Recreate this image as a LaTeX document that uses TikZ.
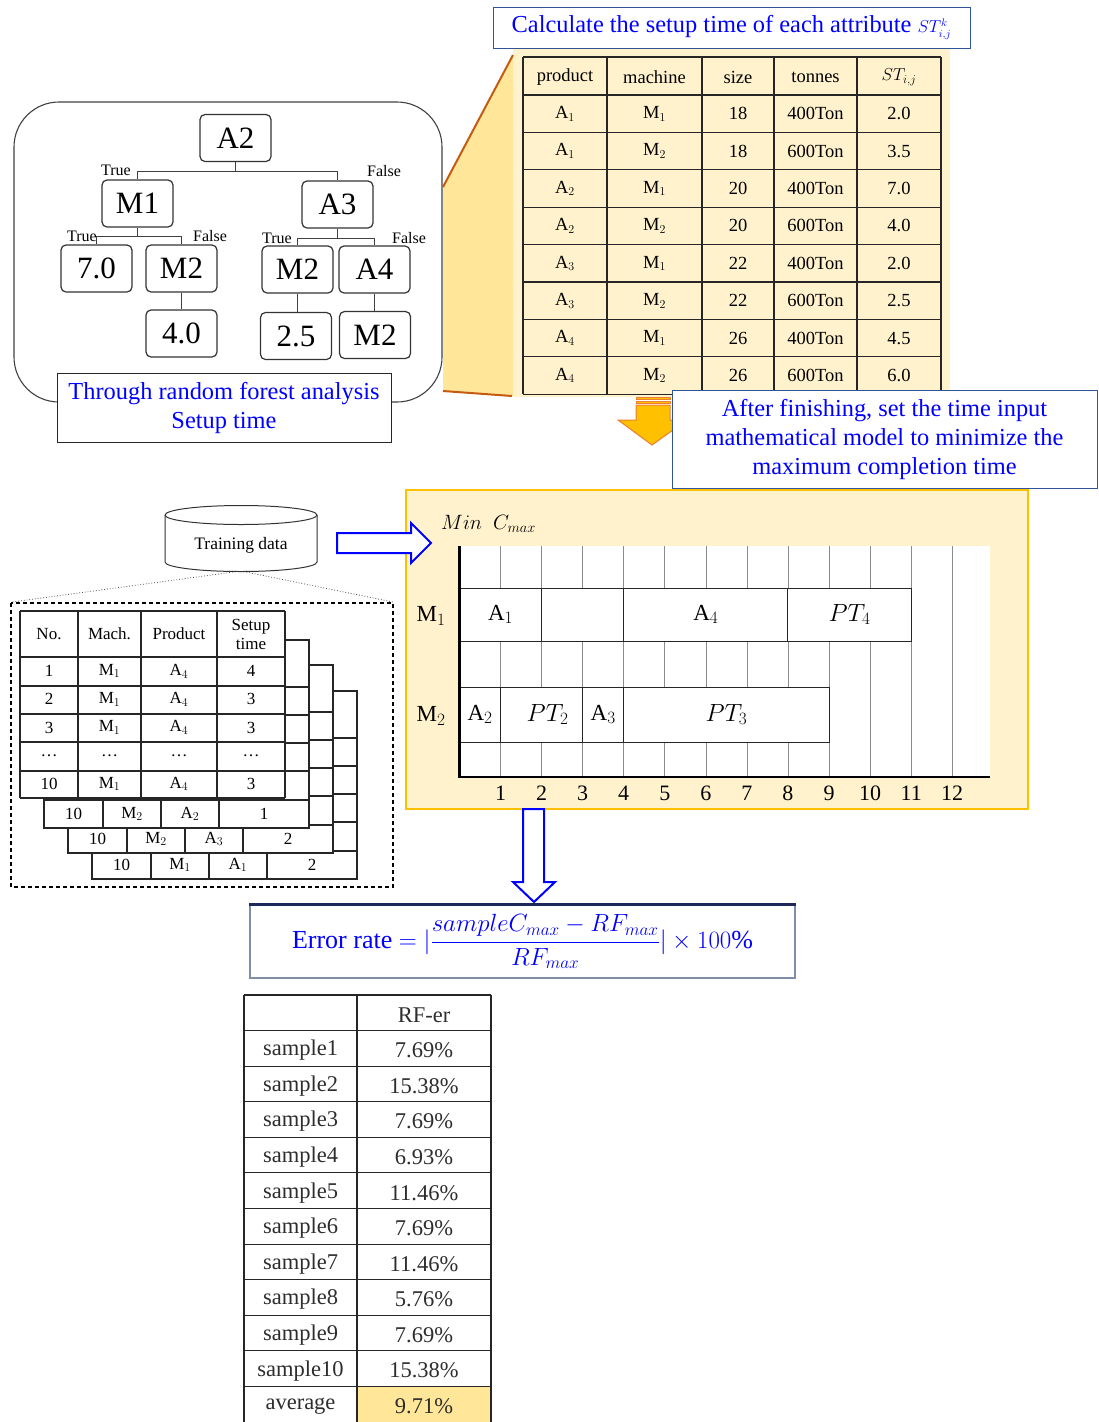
\documentclass[tikz,border=0pt]{standalone}
\usepackage{fontspec}
\setmainfont{Liberation Serif}
\usetikzlibrary{calc}

\definecolor{txtblue}{RGB}{0,0,255}
\definecolor{boxblue}{RGB}{47,85,151}
\definecolor{edgegray}{RGB}{127,143,169}
\definecolor{navy}{RGB}{31,40,90}
\definecolor{paleyel}{RGB}{255,242,204}
\definecolor{deepyel}{RGB}{255,230,153}
\definecolor{rust}{RGB}{197,90,17}
\definecolor{gold}{RGB}{255,192,0}
\definecolor{arrorange}{RGB}{237,125,49}
\definecolor{inkgray}{RGB}{45,45,45}

\newcommand\fsz[2]{\fontsize{#1}{#2}\selectfont}

\tikzset{
  tnode/.style={draw=black!80, line width=1.2pt, rounded corners=5pt, fill=white,
    minimum width=71pt, minimum height=47pt, inner sep=0pt, font=\fsz{31}{34}},
  tline/.style={draw=black!75, line width=1.2pt},
  tlab/.style={font=\fsz{16}{18}, inner sep=0pt},
  tabline/.style={draw=black!85, line width=1.1pt},
  toptxt/.style={font=\fsz{18.5}{21}, inner sep=0pt},
  trtxt/.style={font=\fsz{17}{20}, inner sep=0pt, align=center},
  gbox/.style={draw=black!85, line width=1pt, fill=white, inner sep=0pt,
    font=\fsz{23}{26}},
  gridline/.style={draw=black!45, line width=0.7pt},
  axisline/.style={draw=black, line width=2.6pt},
  bluearrow/.style={draw=txtblue, line width=2pt, fill=white, line join=miter},
  rftxt/.style={font=\fsz{22.5}{26}, text=inkgray, inner sep=0pt, yshift=-2pt},
  bluebox/.style={draw=boxblue, line width=1pt, fill=white, text=txtblue},
}

% one of the stacked sample tables lying behind the front table
\newcommand\backlayer[7]{%
  \fill[white] (#2,#3) rectangle ++(265,188);
  \draw[tabline] (#2,#3) rectangle ++(265,188);
  \foreach \dy in {47,75,103,131,160} \draw[tabline] (#2,{#3+\dy}) -- ++(265,0);
  \foreach \dx in {59,117,175} \draw[tabline] ({#2+\dx},{#3+160}) -- ++(0,28);
  \node[trtxt] (#1n) at ({#2+29.5},{#3+174}) {#4};
  \node[trtxt] (#1m) at ({#2+88},{#3+174}) {#5};
  \node[trtxt] (#1p) at ({#2+146},{#3+174}) {#6};
  \node[trtxt] (#1s) at ({#2+220},{#3+174}) {#7};
}

\begin{document}
\begin{tikzpicture}[x=1pt, y=-1pt]
\useasboundingbox (0,0) rectangle (1098,1422);

%% ---------------- decision tree ----------------
\draw[draw=black!75, line width=1.1pt, rounded corners=45pt] (14,102) rectangle (442,402);

\node[tnode] (a2)  at (235.5,138)   {A2};
\node[tnode] (m1)  at (137.5,203.5) {M1};
\node[tnode] (a3)  at (337.5,204.5) {A3};
\node[tnode] (v70) at (96.5,268.5)  {7.0};
\node[tnode] (m2a) at (181.5,268.5) {M2};
\node[tnode] (m2b) at (297.5,269.5) {M2};
\node[tnode] (a4)  at (374.5,269.5) {A4};
\node[tnode] (v40) at (181.5,333.5) {4.0};
\node[tnode] (v25) at (296,336)     {2.5};
\node[tnode] (m2c) at (375,335)     {M2};

\draw[tline] (a2.south) -- ++(0,9) -| (m1.north);
\draw[tline] (a2.south) ++(0,9) -| (a3.north);
\draw[tline] (m1.south) -- ++(0,9) -| (v70.north);
\draw[tline] (m1.south) ++(0,9) -| (m2a.north);
\draw[tline] (a3.south) -- ++(0,10) -| (m2b.north);
\draw[tline] (a3.south) ++(0,10) -| (a4.north);
\draw[tline] (m2a.south) -- (v40.north);
\draw[tline] (m2b.south) -- (m2b.south |- v25.north);
\draw[tline] (a4.south) -- (a4.south |- m2c.north);

\node[tlab] (t1) at (116,170) {True};
\node[tlab] (f1) at (384,171) {False};
\node[tlab] (t2) at (82,236)  {True};
\node[tlab] (f2) at (210,236) {False};
\node[tlab] (t3) at (277,238) {True};
\node[tlab] (f3) at (409,238) {False};

\node[draw=black!85, line width=1pt, fill=white, text=txtblue, align=center,
      minimum width=334pt, minimum height=69pt, inner sep=0pt, font=\fsz{24.4}{29}]
      (rflabel) at (224,408) {Through random forest analysis\\Setup time};

%% ---------------- setup-time table ----------------
\fill[paleyel] (513,48) rectangle (950,397);
\fill[deepyel] (443,187) -- (513,55) -- (513,396) -- (443,391) -- cycle;
\draw[rust, line width=2pt] (443,187) -- (513,55);
\draw[rust, line width=2pt] (443,391) -- (512,396);

\node[bluebox, minimum width=477pt, minimum height=41pt, inner sep=0pt,
      font=\fsz{24.4}{28}] (calc) at (731.5,27.5)
      {Calculate the setup time of each attribute {\fsz{16}{18}$ST^{k}_{i,j}$}};

\foreach \yy in {57,95,132.4,169.8,207.2,244.6,282,319.4,356.8,394.2}
  \draw[tabline] (523,\yy) -- (941,\yy);
\foreach \xx in {523,607,702,774,857,941}
  \draw[tabline] (\xx,57) -- (\xx,394.2);

\foreach \xx/\tt [count=\c] in {565/product, 654.5/machine, 738/size, 815.5/tonnes, 899/{$ST_{i,j}$}}
  \node[toptxt] (sh\c) at (\xx,77) {\tt};

\foreach \p/\m/\s/\w/\v [count=\r] in {1/1/18/400/2.0, 1/2/18/600/3.5, 2/1/20/400/7.0,
    2/2/20/600/4.0, 3/1/22/400/2.0, 3/2/22/600/2.5, 4/1/26/400/4.5, 4/2/26/600/6.0}{
  \pgfmathsetmacro\yy{95+37.4*(\r-0.5)}
  \node[toptxt] (sp\r) at (565,\yy)   {A$_{\p}$};
  \node[toptxt] (sm\r) at (654.5,\yy) {M$_{\m}$};
  \node[toptxt] (ss\r) at (738,\yy)   {\s};
  \node[toptxt] (sw\r) at (815.5,\yy) {\w Ton};
  \node[toptxt] (sv\r) at (899,\yy)   {\v};
}

%% striped down arrow
\filldraw[fill=gold, draw=arrorange, line width=1pt]
  (636,405) -- (670,405) -- (670,420) -- (687,420) -- (652,445) -- (618,420) -- (636,420) -- cycle;
\filldraw[fill=gold, draw=arrorange, line width=1pt] (636,397) rectangle (670,399.5);
\filldraw[fill=gold, draw=arrorange, line width=1pt] (636,401.5) rectangle (670,403.5);

\node[bluebox, minimum width=425pt, minimum height=98pt, inner sep=0pt, align=center,
      font=\fsz{24.4}{29}] (after) at (884.5,439)
      {After finishing, set the time input\\mathematical model to minimize the\\maximum completion time};

%% ---------------- training data ----------------
\draw[draw=black!70, dotted, line width=0.8pt] (241,571) -- (12,602);
\draw[draw=black!70, dotted, line width=0.8pt] (241,571) -- (393,602);
\filldraw[fill=white, draw=black!80, line width=1pt]
  (165,515) -- (165,562) arc[start angle=180, end angle=360, x radius=76, y radius=-9.5]
  -- (317,515) arc[start angle=0, end angle=180, x radius=76, y radius=-9.5] -- cycle;
\draw[draw=black!80, line width=1pt] (165,515) arc[start angle=180, end angle=360, x radius=76, y radius=-9.5];
\node[font=\fsz{17.5}{20}, inner sep=0pt] (train) at (241,545) {Training data};

\draw[black, dashed, dash pattern=on 4pt off 3pt, line width=1.4pt] (11,603) rectangle (393,887);

\backlayer{la}{92}{691}{10}{M$_1$}{A$_1$}{2}
\backlayer{lb}{68}{665}{10}{M$_2$}{A$_3$}{2}
\backlayer{lc}{44}{640}{10}{M$_2$}{A$_2$}{1}

\fill[white] (20,611) rectangle (285,798);
\foreach \yy in {611,657,686,714,742,771,798} \draw[tabline] (20,\yy) -- (285,\yy);
\foreach \xx in {20,78,141,217,285} \draw[tabline] (\xx,611) -- (\xx,798);
\node[trtxt] (hn) at (49,634)  {No.};
\node[trtxt] (hm) at (109.5,634) {Mach.};
\node[trtxt] (hp) at (179,634) {Product};
\node[trtxt, font=\fsz{17}{19}] (hs) at (251,634) {Setup\\time};
\foreach \n/\m/\p/\s [count=\r] in {1/M$_1$/A$_4$/4, 2/M$_1$/A$_4$/3, 3/M$_1$/A$_4$/3,
    \dots/\dots/\dots/\dots, 10/M$_1$/A$_4$/3}{
  \pgfmathsetmacro\yy{657+28.2*(\r-0.5)}
  \node[trtxt] (rn\r) at (49,\yy)    {\n};
  \node[trtxt] (rm\r) at (109.5,\yy) {\m};
  \node[trtxt] (rp\r) at (179,\yy)   {\p};
  \node[trtxt] (rs\r) at (251,\yy)   {\s};
}

%% ---------------- Gantt chart ----------------
\filldraw[fill=paleyel, draw=gold, line width=1.6pt] (406,490) rectangle (1028,809);
\node[anchor=west, inner sep=0pt, font=\fsz{22}{26}] (cmax) at (441,524) {$Min\ \ C_{max}$};
\fill[white] (458,546) rectangle (990,777);
\foreach \k in {1,...,12} \draw[gridline] ({459.5+41.06*\k},546) -- ({459.5+41.06*\k},776);

\node[gbox, minimum width=82.12pt,  minimum height=53pt] (ga1) at (500.56,614.5) {A$_1$};
\node[gbox, minimum width=82.12pt,  minimum height=53pt] (gid) at (582.68,614.5) {};
\node[gbox, minimum width=164.24pt, minimum height=53pt] (ga4) at (705.86,614.5) {A$_4$};
\node[gbox, minimum width=123.18pt, minimum height=53pt] (gp4) at (849.57,614.5) {$PT_4$};
\node[gbox, minimum width=41.06pt,  minimum height=55pt] (ga2) at (480.03,714.5) {A$_2$};
\node[gbox, minimum width=82.12pt,  minimum height=55pt] (gp2) at (541.62,714.5) {\hspace*{12pt}$PT_2$};
\node[gbox, minimum width=41.06pt,  minimum height=55pt] (ga3) at (603.21,714.5) {A$_3$};
\node[gbox, minimum width=205.3pt,  minimum height=55pt] (gp3) at (726.39,714.5) {$PT_3$};

\draw[axisline] (459.5,546) -- (459.5,777) -- (990,777);
\node[font=\fsz{23}{26}, inner sep=0pt] (lm1) at (431,616) {M$_1$};
\node[font=\fsz{23}{26}, inner sep=0pt] (lm2) at (431,716) {M$_2$};
\foreach \k in {1,...,12}
  \node[font=\fsz{22}{26}, inner sep=0pt] (ax\k) at ({459.5+41.06*\k},793) {\k};

%% block arrows into and out of the chart
\filldraw[bluearrow] (337,533) -- (411,533) -- (411,523) -- (431,543) -- (411,563) -- (411,553) -- (337,553) -- cycle;
\filldraw[bluearrow] (523,809) -- (544,809) -- (544,882) -- (555,882) -- (534,902) -- (513,882) -- (523,882) -- cycle;

%% ---------------- error rate ----------------
\node[draw=edgegray, line width=1.5pt, fill=white, minimum width=545pt, minimum height=73pt,
      inner sep=0pt, text=txtblue, font=\fsz{26}{28}] (err) at (522.5,941.5)
      {Error rate $=|\displaystyle\frac{sampleC_{max}-RF_{max}}{RF_{max}}|\times 100\%$};
\draw[navy, line width=2.5pt] (err.north west) -- (err.north east);

%% ---------------- result table ----------------
\fill[deepyel] (357,{995+35.58*11}) rectangle (491,1422);
\foreach \i in {0,...,11} \draw[tabline] (244,{995+35.58*\i}) -- (491,{995+35.58*\i});
\foreach \xx in {244,357,491} \draw[tabline] (\xx,995) -- (\xx,1422);
\foreach \a/\b [count=\r from 0] in {{}/RF-er, sample1/7.69\%, sample2/15.38\%, sample3/7.69\%,
    sample4/6.93\%, sample5/11.46\%, sample6/7.69\%, sample7/11.46\%, sample8/5.76\%,
    sample9/7.69\%, sample10/15.38\%, average/9.71\%}{
  \pgfmathsetmacro\yy{995+35.58*(\r+0.5)}
  \node[rftxt] (ra\r) at (300.5,\yy) {\a};
  \node[rftxt] (rb\r) at (424,\yy)   {\b};
}
\end{tikzpicture}
\end{document}
